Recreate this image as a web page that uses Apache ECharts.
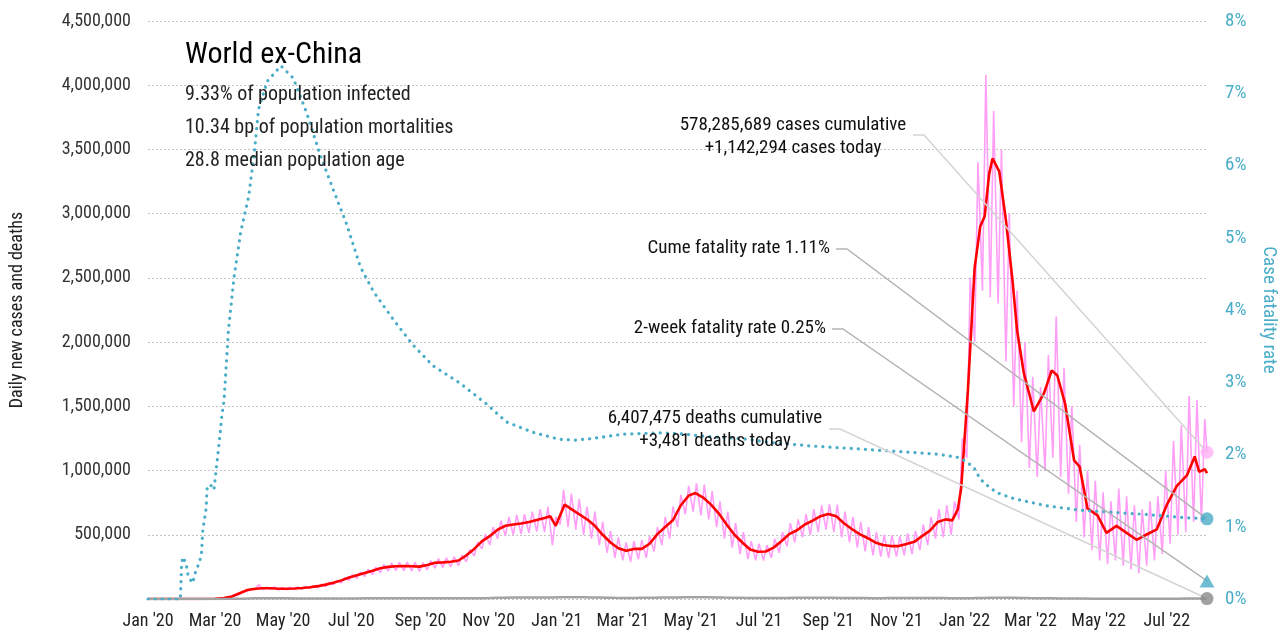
<!DOCTYPE html>
<html><head><meta charset="utf-8">
<script src="https://cdn.jsdelivr.net/npm/echarts@6/dist/echarts.min.js"></script>
<style>html,body{margin:0;padding:0;background:#fff}#c{width:1286px;height:637px}</style>
</head><body><div id="c"></div>
<script>
const FONT = "'Roboto Condensed','Liberation Sans Narrow',sans-serif";

// ---- axis range / tick labels ----
const firstDay = '2020-01-01';
const lastDay = '2022-08-06';
const monthNames = ['Jan','Feb','Mar','Apr','May','Jun','Jul','Aug','Sep','Oct','Nov','Dec'];
const leftTicks = [0, 4500000, 500000];   // min, max, interval
const rightTicks = [0, 8, 1];             // percent

// ---- text ----
const titleText = 'World ex-China';
const statLines = ['9.33% of population infected', '10.34 bp of population mortalities', '28.8 median population age'];
const casesNote = ['578,285,689 cases cumulative', '+1,142,294 cases today'];
const cumeNote = 'Cume fatality rate 1.11%';
const twoWeekNote = '2-week fatality rate 0.25%';
const deathsNote = ['6,407,475 deaths cumulative', '+3,481 deaths today'];

// ---- latest values (end markers) ----
const casesToday = 1142294;
const deathsToday = 3481;
const cumeCFR = 1.11;
const twoWeekCFR = 0.25;

// ---- daily new cases, raw: weekly low (Mon) and high (Thu), thousands ----
const rawWeekStart = '2020-01-06';
const rawLow = [0,0,0,0,0.1,0.1,0.2,0.8,2,6,15,38,62,72,74,76,72,72,74,76,82,88,98,110,125,145,160,175,190,205,
  218,222,220,218,215,228,240,245,250,260,290,335,390,420,470,490,500,505,515,525,520,420,580,560,540,500,470,420,360,320,
  300,290,310,320,370,420,470,560,660,680,650,620,560,470,400,350,310,300,300,320,360,410,440,480,500,520,540,520,480,440,
  400,370,340,330,320,330,340,350,380,420,470,480,500,620,1100,2000,2400,2350,2300,1850,1500,1220,1020,950,1000,1100,950,820,600,480,
  380,300,270,300,260,230,200,260,300,350,430,500,520,600,600];
const rawHigh = [0,0,0,0.1,0.2,0.2,0.5,1.5,4,11,28,55,78,112,92,95,90,92,94,98,104,115,128,145,165,190,210,230,248,268,
  280,285,288,285,282,298,315,320,328,340,385,440,505,560,610,640,655,660,680,700,720,640,850,820,780,720,680,600,530,480,
  440,450,460,490,560,640,720,810,880,900,890,840,760,680,590,520,450,430,420,470,520,590,620,660,700,730,740,735,680,640,
  600,560,520,500,495,490,510,530,580,640,700,730,760,1250,2500,3400,4080,3800,3500,3000,2400,2000,1730,1650,1900,2200,1800,1500,1200,1000,
  920,830,760,860,800,730,700,760,800,1000,1230,1350,1580,1550,1400];

// ---- daily new cases, 7-day average (date, thousands) ----
const avgCases = [['2020-01-01',0],['2020-02-15',0.3],['2020-03-01',2],['2020-03-09',8],['2020-03-16',20],['2020-03-23',45],['2020-03-30',70],
 ['2020-04-06',80],['2020-04-13',84],['2020-04-20',84],['2020-04-27',80],['2020-05-04',80],['2020-05-11',82],['2020-05-18',86],['2020-05-25',92],
 ['2020-06-01',100],['2020-06-08',112],['2020-06-15',127],['2020-06-22',145],['2020-06-29',168],['2020-07-06',185],['2020-07-13',202],['2020-07-20',220],
 ['2020-07-27',240],['2020-08-03',250],['2020-08-10',255],['2020-08-17',257],['2020-08-24',255],['2020-08-31',252],['2020-09-07',265],['2020-09-14',282],
 ['2020-09-21',285],['2020-09-28',290],['2020-10-05',300],['2020-10-12',340],['2020-10-19',390],['2020-10-26',450],['2020-11-02',490],['2020-11-09',540],
 ['2020-11-16',570],['2020-11-23',580],['2020-11-30',588],['2020-12-07',600],['2020-12-14',615],['2020-12-21',630],['2020-12-26',645],['2020-12-31',570],
 ['2021-01-08',735],['2021-01-14',700],['2021-01-21',660],['2021-01-28',620],['2021-02-04',570],['2021-02-11',500],['2021-02-18',440],['2021-02-25',395],
 ['2021-03-04',375],['2021-03-11',390],['2021-03-18',390],['2021-03-25',430],['2021-04-01',505],['2021-04-08',560],['2021-04-15',615],['2021-04-22',730],
 ['2021-04-29',805],['2021-05-05',825],['2021-05-12',790],['2021-05-19',735],['2021-05-26',665],['2021-06-02',580],['2021-06-09',500],['2021-06-16',440],
 ['2021-06-23',385],['2021-06-30',368],['2021-07-07',370],['2021-07-14',400],['2021-07-21',450],['2021-07-28',505],['2021-08-04',535],['2021-08-11',580],
 ['2021-08-18',610],['2021-08-25',645],['2021-09-01',662],['2021-09-08',645],['2021-09-15',590],['2021-09-22',545],['2021-09-29',505],['2021-10-06',475],
 ['2021-10-13',440],['2021-10-20',420],['2021-10-27',412],['2021-11-03',412],['2021-11-10',428],['2021-11-17',445],['2021-11-24',490],['2021-12-01',532],
 ['2021-12-08',600],['2021-12-15',620],['2021-12-21',612],['2021-12-26',700],['2021-12-29',868],['2022-01-04',1630],['2022-01-10',2580],['2022-01-15',2900],
 ['2022-01-19',2980],['2022-01-23',3310],['2022-01-26',3430],['2022-02-01',3330],['2022-02-07',2950],['2022-02-13',2470],['2022-02-17',2090],['2022-02-23',1760],
 ['2022-03-04',1460],['2022-03-13',1600],['2022-03-20',1780],['2022-03-25',1740],['2022-04-01',1520],['2022-04-09',1080],['2022-04-14',1030],['2022-04-21',705],
 ['2022-04-30',651],['2022-05-08',515],['2022-05-17',569],['2022-05-26',515],['2022-06-04',461],['2022-06-13',502],['2022-06-22',542],['2022-07-01',732],
 ['2022-07-10',881],['2022-07-19',962],['2022-07-26',1110],['2022-07-30',990],['2022-08-04',1010],['2022-08-06',980]];

// ---- daily deaths, weekly (thousands), same week start as raw cases ----
const deathsWeekly = [0,0,0,0,0,0,0,0,0.1,0.3,1,2.5,4.5,6,6.5,6.3,5.5,5,4.5,4.2,4,4.2,4.5,4.6,4.5,4.6,4.8,5.2,5.5,5.7,
  5.8,5.8,5.7,5.6,5.5,5.3,5.4,5.4,5.2,5.3,5.7,6.2,6.8,7.8,9,10,10.8,11.2,11.5,11.6,11.4,11.6,13,14,14.3,13.8,12.5,11.5,10,9,
  8.5,8.5,8.8,9.5,10,11,12,12.5,13.5,13.8,13.5,12.8,11.8,10.8,10,9,8,7.6,7.8,8,8.2,8.6,9.2,9.8,10,10,9.8,9.3,8.7,8.2,
  7.7,7.3,6.8,6.8,6.9,7,7.1,7.1,7,7.1,7.3,7.2,6.8,6.5,6.6,7.2,8.5,9.8,10.5,10.3,9.5,8.3,7.2,6.5,5.6,5.1,4.6,4,3.6,3.2,
  2.9,2.5,2.3,2.2,2.1,1.9,1.8,1.9,1.9,2.1,2.4,2.9,3.2,3.5,3.6];

// ---- cumulative case fatality rate (date, %) ----
const cfr = [['2020-01-01',0],['2020-01-30',0],['2020-01-31',0.45],['2020-02-01',0.58],['2020-02-04',0.5],['2020-02-06',0.31],['2020-02-10',0.22],
 ['2020-02-13',0.40],['2020-02-16',0.50],['2020-02-18',0.65],['2020-02-19',0.95],['2020-02-22',1.25],['2020-02-23',1.56],['2020-02-26',1.58],
 ['2020-02-29',1.51],['2020-03-01',1.65],['2020-03-03',1.92],['2020-03-05',2.2],['2020-03-07',2.52],['2020-03-09',2.74],['2020-03-13',3.72],
 ['2020-03-18',4.45],['2020-03-24',5.08],['2020-03-31',5.56],['2020-04-05',6.15],['2020-04-09',6.78],['2020-04-17',7.17],['2020-04-29',7.38],
 ['2020-05-10',7.21],['2020-05-22',6.73],['2020-06-03',6.15],['2020-06-15',5.66],['2020-06-27',5.18],['2020-07-09',4.60],['2020-07-21',4.25],
 ['2020-08-08',3.86],['2020-08-25',3.52],['2020-09-12',3.23],['2020-10-06',2.99],['2020-10-30',2.70],['2020-11-17',2.45],['2020-12-10',2.31],
 ['2021-01-03',2.21],['2021-01-18',2.20],['2021-02-01',2.22],['2021-03-01',2.28],['2021-04-01',2.30],['2021-04-20',2.29],['2021-05-15',2.25],
 ['2021-06-15',2.22],['2021-07-15',2.16],['2021-08-15',2.12],['2021-09-15',2.09],['2021-10-15',2.06],['2021-11-15',2.03],['2021-12-10',2.0],
 ['2021-12-26',1.96],['2022-01-03',1.90],['2022-01-10',1.80],['2022-01-15',1.66],['2022-01-23',1.55],['2022-01-30',1.47],['2022-02-14',1.39],
 ['2022-03-15',1.29],['2022-04-14',1.23],['2022-05-14',1.20],['2022-06-13',1.17],['2022-07-13',1.13],['2022-08-06',1.11]];

// ---------- build ----------
const DAY = 86400000;
function dayIdx(s){ const p = s.split('-').map(Number); const f = firstDay.split('-').map(Number);
  return Math.round((Date.UTC(p[0],p[1]-1,p[2]) - Date.UTC(f[0],f[1]-1,f[2]))/DAY); }
const nDays = dayIdx(lastDay) + 1;
const categories = [];
{ const f = firstDay.split('-').map(Number); const t0 = Date.UTC(f[0],f[1]-1,f[2]);
  for (let i=0;i<nDays;i++){ const d = new Date(t0 + i*DAY);
    categories.push(d.getUTCFullYear()+'-'+String(d.getUTCMonth()+1).padStart(2,'0')+'-'+String(d.getUTCDate()).padStart(2,'0')); } }
const lastIdx = nDays - 1;
const w0 = dayIdx(rawWeekStart);

const rawData = [[0,0]];
rawLow.forEach((v,k)=>{ rawData.push([w0+7*k, v*1000]); const hi = w0+7*k+3; if (hi < lastIdx) rawData.push([hi, rawHigh[k]*1000]); });
rawData.push([lastIdx, casesToday]);
const avgData = avgCases.map(p=>[dayIdx(p[0]), p[1]*1000]);
const deathData = [[0,0]].concat(deathsWeekly.map((v,k)=>[w0+7*k, v*1000]));
deathData.push([lastIdx, deathsToday]);
const cfrData = cfr.map(p=>[dayIdx(p[0]), p[1]]);

const chart = echarts.init(document.getElementById('c'), null, {renderer:'canvas'});
const cyan = '#4aadc7';
const option = {
  animation:false,
  textStyle:{fontFamily:FONT},
  grid:{left:145, right:76, top:21, bottom:38, containLabel:false},
  xAxis:{type:'category', data:categories, boundaryGap:false,
    axisLine:{show:false}, axisTick:{show:false}, splitLine:{show:false},
    axisLabel:{fontFamily:FONT, fontSize:18, color:'#222', margin:13,
      interval:(i,v)=>{ const m = +v.slice(5,7); return v.slice(8)==='01' && m%2===1; },
      formatter:(v)=> monthNames[+v.slice(5,7)-1] + " '" + v.slice(2,4)}},
  yAxis:[
    {type:'value', min:leftTicks[0], max:leftTicks[1], interval:leftTicks[2], position:'left',
      name:'Daily new cases and deaths', nameLocation:'middle', nameGap:122,
      nameTextStyle:{fontFamily:FONT, fontSize:18, color:'#222'},
      axisLine:{show:false}, axisTick:{show:false},
      splitLine:{show:true, lineStyle:{color:'#c2c2c2', width:1, type:[2,2]}},
      axisLabel:{fontFamily:FONT, fontSize:18, color:'#333', margin:17,
        formatter:v=> v===0 ? '' : v.toLocaleString('en-US')}},
    {type:'value', min:rightTicks[0], max:rightTicks[1], interval:rightTicks[2], position:'right',
      name:'Case fatality rate', nameLocation:'middle', nameGap:52, nameRotate:-90,
      nameTextStyle:{fontFamily:FONT, fontSize:19, color:cyan},
      axisLine:{show:false}, axisTick:{show:false}, splitLine:{show:false},
      axisLabel:{fontFamily:FONT, fontSize:19, color:cyan, margin:18, formatter:v=>v+'%'}}
  ],
  series:[
    {name:'raw', type:'line', data:rawData, showSymbol:false, z:2,
      lineStyle:{color:'#ff9ef7', width:1.6}},
    {name:'avg', type:'line', data:avgData, showSymbol:false, z:3,
      lineStyle:{color:'#ff0000', width:2.6}},
    {name:'deaths', type:'line', data:deathData, showSymbol:false, z:3,
      lineStyle:{color:'#a3a3a3', width:2.5}},
    {name:'cfr', type:'line', yAxisIndex:1, data:cfrData, showSymbol:false, z:4,
      lineStyle:{color:cyan, width:3.2, type:[0.1,7], cap:'round'}},
    {name:'casesToday', type:'scatter', data:[[lastIdx, casesToday]], symbol:'circle', symbolSize:13, z:6,
      itemStyle:{color:'#ffb0f6'}},
    {name:'deathsToday', type:'scatter', data:[[lastIdx, deathsToday]], symbol:'circle', symbolSize:13, z:6,
      itemStyle:{color:'#8a8a8a'}},
    {name:'cumeCFR', type:'scatter', yAxisIndex:1, data:[[lastIdx, cumeCFR]], symbol:'circle', symbolSize:13, z:6,
      itemStyle:{color:cyan}},
    {name:'twoWeekCFR', type:'scatter', yAxisIndex:1, data:[[lastIdx, twoWeekCFR]], symbol:'triangle', symbolSize:[15,13], z:6,
      itemStyle:{color:cyan}}
  ]
};
chart.setOption(option);

// annotations with leader lines to the end markers
const pL = v => chart.convertToPixel({xAxisIndex:0, yAxisIndex:0}, [lastIdx, v]);
const pR = v => chart.convertToPixel({xAxisIndex:0, yAxisIndex:1}, [lastIdx, v]);
function leader(start, end, color){
  return {type:'polyline', z:5, silent:true,
    shape:{points:[start, [start[0]+11, start[1]], end]},
    style:{stroke:color, lineWidth:1.5, fill:null}};
}
function txt(x, y, text, size, align, color, weight){
  return {type:'text', z:7, silent:true, x:x, y:y,
    style:{text:text, fontFamily:FONT, fontSize:size, fill:color||'#111', align:align||'left', verticalAlign:'middle',
      lineHeight:23, fontWeight:weight||'normal'}};
}
chart.setOption({graphic:[
  txt(185, 55, titleText, 30, 'left', '#000'),
  txt(185, 95, statLines[0], 20, 'left', '#222'),
  txt(185, 128, statLines[1], 20, 'left', '#222'),
  txt(185, 161, statLines[2], 20, 'left', '#222'),
  txt(793, 137, casesNote.join('\n'), 19, 'center'),
  txt(830, 248, cumeNote, 19, 'right'),
  txt(826, 328, twoWeekNote, 19, 'right'),
  txt(715, 430, deathsNote.join('\n'), 19, 'center'),
  leader([913,135], pL(casesToday), '#d4d4d4'),
  leader([836,249], pR(cumeCFR), '#b4b4b4'),
  leader([832,329], pR(twoWeekCFR), '#b4b4b4'),
  leader([829,429], pL(deathsToday), '#d4d4d4')
]});
</script>
</body></html>
